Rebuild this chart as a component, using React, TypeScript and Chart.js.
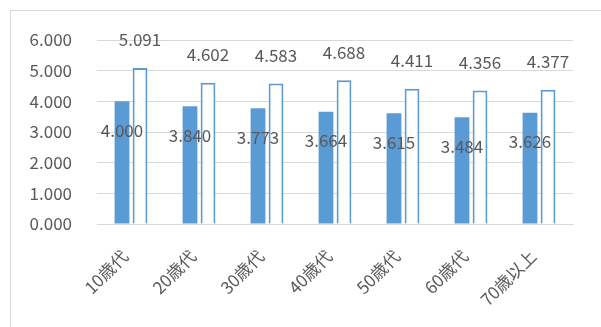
import React, { useEffect, useRef } from "react";
import { Chart, registerables } from "chart.js";

Chart.register(...registerables);

const categories = ["10歳代", "20歳代", "30歳代", "40歳代", "50歳代", "60歳代", "70歳以上"];
const seriesFilled = [4.0, 3.84, 3.773, 3.664, 3.615, 3.484, 3.626];
const seriesOutline = [5.091, 4.602, 4.583, 4.688, 4.411, 4.356, 4.377];
const yTicks = [0, 1, 2, 3, 4, 5, 6];

const BLUE = "#5B9BD5";
const TEXT = "#595959";
const GRID = "#D9D9D9";
const FONT = "'Noto Sans CJK JP', 'Noto Sans', sans-serif";

const labelPlugin = {
  id: "valueLabels",
  afterDatasetsDraw(chart: any) {
    const ctx = chart.ctx;
    ctx.save();
    ctx.font = `17px ${FONT}`;
    ctx.fillStyle = TEXT;
    ctx.textAlign = "center";
    ctx.textBaseline = "middle";
    chart.data.datasets.forEach((ds: any, di: number) => {
      const meta = chart.getDatasetMeta(di);
      meta.data.forEach((bar: any, i: number) => {
        const v = ds.data[i] as number;
        const y = di === 0 ? bar.y + 29 : bar.y - 28;
        ctx.fillText(v.toFixed(3), bar.x, y);
      });
    });
    ctx.restore();
  },
};

export default function App() {
  const ref = useRef<HTMLCanvasElement>(null);
  useEffect(() => {
    if (!ref.current) return;
    const chart = new Chart(ref.current, {
      type: "bar",
      data: {
        labels: categories,
        datasets: [
          {
            data: seriesFilled,
            backgroundColor: BLUE,
            borderWidth: 0,
            categoryPercentage: 0.53,
            barPercentage: 0.82,
          },
          {
            data: seriesOutline,
            backgroundColor: "#FFFFFF",
            borderColor: BLUE,
            borderWidth: 2,
            categoryPercentage: 0.53,
            barPercentage: 0.82,
          },
        ],
      },
      options: {
        responsive: false,
        animation: false,
        layout: { padding: { left: 0, right: 28, top: 29, bottom: 0 } },
        plugins: { legend: { display: false }, tooltip: { enabled: false } },
        scales: {
          x: {
            grid: { display: false, drawTicks: false },
            border: { color: GRID, width: 1 },
            ticks: {
              color: TEXT,
              font: { family: FONT, size: 17 },
              maxRotation: 45,
              minRotation: 45,
              padding: 22,
              labelOffset: -6,
            },
            afterFit(scale: any) {
              scale.height = 103;
              scale.paddingLeft = 0;
              scale.paddingRight = 0;
            },
          },
          y: {
            min: 0,
            max: 6,
            afterBuildTicks(scale: any) {
              scale.ticks = yTicks.map((v) => ({ value: v }));
            },
            grid: { color: GRID, lineWidth: 1, drawTicks: false },
            border: { display: false },
            ticks: {
              color: TEXT,
              font: { family: FONT, size: 17 },
              padding: 25,
              callback: (v: any) => Number(v).toFixed(3),
            },
            afterFit(scale: any) {
              scale.width = 86;
              scale.paddingTop = 0;
              scale.paddingBottom = 0;
            },
          },
        },
      },
      plugins: [labelPlugin],
    });
    return () => chart.destroy();
  }, []);
  return (
    <div
      style={{
        position: "fixed",
        left: 10,
        top: 10,
        width: 620,
        height: 340,
        borderLeft: `1px solid ${GRID}`,
        borderTop: `1px solid ${GRID}`,
        background: "#fff",
      }}
    >
      <canvas ref={ref} width={590} height={316} style={{ display: "block" }} />
    </div>
  );
}
